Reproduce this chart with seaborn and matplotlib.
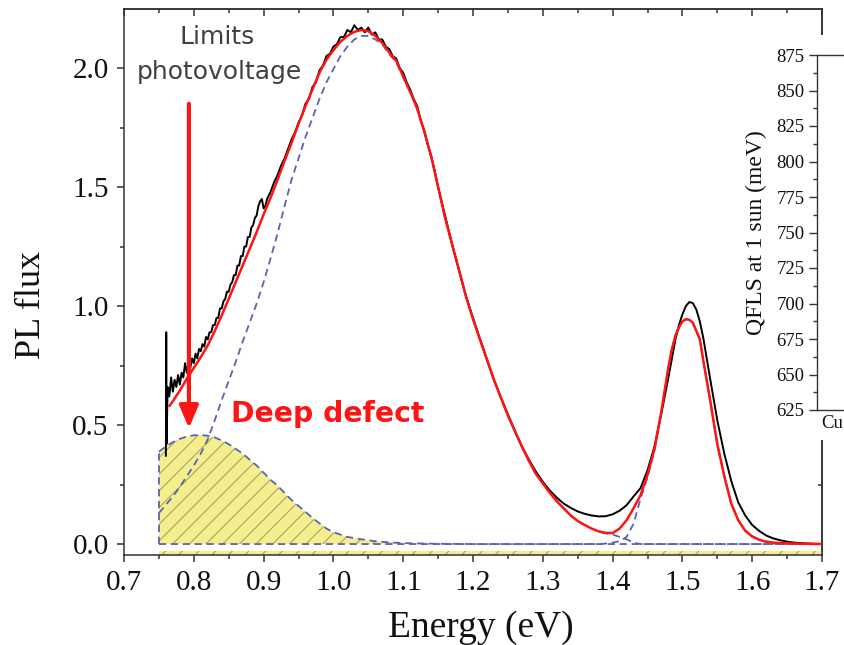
import matplotlib
matplotlib.use("Agg")
import matplotlib.pyplot as plt
import numpy as np
import pandas as pd
import seaborn as sns
from matplotlib.patches import Rectangle
from matplotlib.ticker import MultipleLocator

# ---------------- data ----------------
# measured PL spectrum (black, noisy)
data_x = [0.7600, 0.7605, 0.7610, 0.7625, 0.7650, 0.7675, 0.7700, 0.7725, 0.7750, 0.7775,
          0.7800, 0.7825, 0.7850, 0.7875, 0.7900, 0.7925, 0.7950, 0.7975, 0.8000, 0.8025,
          0.8050, 0.8075, 0.8100, 0.8125, 0.8150, 0.8175, 0.8200, 0.8225, 0.8250, 0.8275,
          0.8300, 0.8325, 0.8350, 0.8375, 0.8400, 0.8425, 0.8450, 0.8475, 0.8500, 0.8525,
          0.8550, 0.8575, 0.8600, 0.8625, 0.8650, 0.8675, 0.8700, 0.8725, 0.8750, 0.8775,
          0.8800, 0.8825, 0.8850, 0.8875, 0.8900, 0.8925, 0.8950, 0.8975, 0.9000, 0.9025,
          0.9050, 0.910, 0.915, 0.920, 0.925, 0.930, 0.935, 0.940, 0.945, 0.950,
          0.955, 0.960, 0.965, 0.970, 0.975, 0.980, 0.985, 0.990, 0.995, 1.000,
          1.005, 1.010, 1.015, 1.020, 1.025, 1.030, 1.035, 1.040, 1.045, 1.050,
          1.055, 1.060, 1.065, 1.070, 1.075, 1.080, 1.085, 1.090, 1.095, 1.100,
          1.105, 1.110, 1.115, 1.120, 1.125, 1.130, 1.135, 1.140, 1.145, 1.15,
          1.16, 1.17, 1.18, 1.19, 1.20, 1.21, 1.22, 1.23, 1.24, 1.25,
          1.26, 1.27, 1.28, 1.29, 1.30, 1.31, 1.32, 1.33, 1.34, 1.35,
          1.36, 1.37, 1.38, 1.39, 1.40, 1.41, 1.42, 1.43, 1.44, 1.45,
          1.46, 1.47, 1.48, 1.49, 1.495, 1.50, 1.505, 1.51, 1.515, 1.52,
          1.525, 1.53, 1.54, 1.55, 1.56, 1.57, 1.58, 1.59, 1.60, 1.61,
          1.62, 1.63, 1.64, 1.65, 1.66, 1.67, 1.68, 1.69, 1.70]
data_y = [0.37, 0.89, 0.42, 0.66, 0.62, 0.70, 0.64, 0.69, 0.66, 0.71,
          0.67, 0.72, 0.70, 0.76, 0.72, 0.76, 0.74, 0.78, 0.76, 0.80,
          0.78, 0.82, 0.81, 0.84, 0.83, 0.87, 0.86, 0.89, 0.89, 0.92,
          0.92, 0.95, 0.95, 0.99, 0.99, 1.02, 1.03, 1.06, 1.06, 1.09,
          1.10, 1.13, 1.13, 1.17, 1.17, 1.21, 1.21, 1.25, 1.25, 1.29,
          1.29, 1.33, 1.34, 1.37, 1.38, 1.42, 1.44, 1.45, 1.41, 1.42,
          1.45, 1.48, 1.52, 1.55, 1.59, 1.62, 1.66, 1.70, 1.73, 1.77,
          1.80, 1.85, 1.87, 1.92, 1.94, 1.99, 2.01, 2.05, 2.06, 2.09,
          2.10, 2.13, 2.13, 2.16, 2.15, 2.18, 2.16, 2.17, 2.15, 2.17,
          2.14, 2.15, 2.12, 2.12, 2.09, 2.08, 2.05, 2.04, 2.00, 1.98,
          1.94, 1.91, 1.87, 1.84, 1.78, 1.74, 1.68, 1.63, 1.57, 1.50,
          1.38, 1.26, 1.15, 1.04, 0.95, 0.86, 0.775, 0.69, 0.615, 0.545,
          0.475, 0.41, 0.355, 0.305, 0.262, 0.225, 0.195, 0.17, 0.152, 0.137,
          0.127, 0.12, 0.116, 0.117, 0.125, 0.14, 0.163, 0.20, 0.235, 0.31,
          0.41, 0.55, 0.70, 0.86, 0.92, 0.965, 1.00, 1.017, 1.012, 0.985,
          0.935, 0.865, 0.69, 0.52, 0.38, 0.265, 0.175, 0.12, 0.08, 0.055,
          0.036, 0.024, 0.016, 0.010, 0.006, 0.004, 0.002, 0.001, 0.0]

# total fit (red)
fit_x = [0.765, 0.77, 0.78, 0.79, 0.80, 0.81, 0.82, 0.83, 0.84, 0.85,
         0.86, 0.87, 0.88, 0.89, 0.90, 0.91, 0.92, 0.93, 0.94, 0.95,
         0.96, 0.97, 0.98, 0.99, 1.00, 1.01, 1.02, 1.03, 1.04, 1.05,
         1.06, 1.07, 1.08, 1.09, 1.10, 1.11, 1.12, 1.13, 1.14, 1.15,
         1.16, 1.17, 1.18, 1.19, 1.20, 1.21, 1.22, 1.23, 1.24, 1.25,
         1.26, 1.27, 1.28, 1.29, 1.30, 1.31, 1.32, 1.33, 1.34, 1.35,
         1.36, 1.37, 1.38, 1.39, 1.40, 1.41, 1.42, 1.43, 1.44, 1.45,
         1.46, 1.47, 1.48, 1.485, 1.49, 1.495, 1.50, 1.505, 1.51, 1.515,
         1.52, 1.525, 1.53, 1.54, 1.55, 1.56, 1.57, 1.58, 1.59, 1.60,
         1.61, 1.62, 1.63, 1.64, 1.66, 1.68, 1.70]
fit_y = [0.58, 0.60, 0.645, 0.695, 0.74, 0.785, 0.835, 0.895, 0.96, 1.03,
         1.10, 1.17, 1.24, 1.31, 1.385, 1.455, 1.53, 1.61, 1.685, 1.765,
         1.84, 1.91, 1.98, 2.035, 2.075, 2.11, 2.135, 2.152, 2.16, 2.155,
         2.135, 2.105, 2.065, 2.03, 1.965, 1.90, 1.83, 1.735, 1.63, 1.50,
         1.37, 1.26, 1.15, 1.04, 0.945, 0.86, 0.775, 0.69, 0.615, 0.54,
         0.475, 0.41, 0.35, 0.295, 0.255, 0.215, 0.18, 0.15, 0.12, 0.097,
         0.08, 0.065, 0.053, 0.047, 0.046, 0.065, 0.10, 0.15, 0.205, 0.29,
         0.40, 0.56, 0.745, 0.82, 0.875, 0.91, 0.935, 0.945, 0.942, 0.93,
         0.895, 0.86, 0.77, 0.60, 0.42, 0.285, 0.17, 0.10, 0.056, 0.032,
         0.018, 0.010, 0.006, 0.004, 0.002, 0.001, 0.0]

# main band-to-band component (blue dashed)
main_x = [0.75, 0.76, 0.77, 0.78, 0.79, 0.80, 0.81, 0.82, 0.83, 0.84,
          0.85, 0.86, 0.87, 0.88, 0.89, 0.90, 0.91, 0.92, 0.93, 0.94,
          0.95, 0.96, 0.97, 0.98, 0.99, 1.00, 1.01, 1.02, 1.03, 1.04,
          1.05, 1.06, 1.07, 1.08, 1.09, 1.10, 1.11, 1.12, 1.13, 1.14,
          1.15, 1.16, 1.17, 1.18, 1.19, 1.20, 1.21, 1.22, 1.23, 1.24,
          1.25, 1.26, 1.27, 1.28, 1.29, 1.30, 1.31, 1.32, 1.33, 1.34,
          1.35, 1.36, 1.37, 1.38, 1.39, 1.40, 1.41, 1.42, 1.43, 1.44, 1.70]
main_y = [0.13, 0.165, 0.20, 0.24, 0.285, 0.33, 0.38, 0.44, 0.52, 0.605,
          0.685, 0.765, 0.85, 0.93, 1.01, 1.10, 1.20, 1.305, 1.42, 1.53,
          1.62, 1.71, 1.79, 1.87, 1.94, 1.995, 2.05, 2.09, 2.12, 2.135,
          2.135, 2.12, 2.10, 2.058, 2.025, 1.96, 1.90, 1.83, 1.735, 1.63,
          1.50, 1.37, 1.26, 1.15, 1.04, 0.945, 0.86, 0.775, 0.69, 0.615,
          0.54, 0.475, 0.41, 0.35, 0.295, 0.255, 0.215, 0.18, 0.15, 0.12,
          0.097, 0.08, 0.065, 0.053, 0.045, 0.04, 0.03, 0.02, 0.006, 0.0, 0.0]

# deep defect component (yellow, hatched)
defect_x = [0.75, 0.76, 0.77, 0.78, 0.79, 0.80, 0.81, 0.82, 0.83, 0.84,
            0.85, 0.86, 0.87, 0.88, 0.89, 0.90, 0.91, 0.92, 0.93, 0.94,
            0.95, 0.96, 0.97, 0.98, 0.99, 1.00, 1.02, 1.04, 1.06, 1.08,
            1.10, 1.15, 1.20, 1.70]
defect_y = [0.388, 0.41, 0.428, 0.442, 0.452, 0.457, 0.458, 0.455, 0.448, 0.435,
            0.42, 0.40, 0.38, 0.355, 0.33, 0.30, 0.27, 0.245, 0.215, 0.185,
            0.16, 0.135, 0.11, 0.087, 0.065, 0.05, 0.03, 0.02, 0.012, 0.007,
            0.004, 0.001, 0.0, 0.0]

# band-edge peak component (blue dashed)
peak_x = [0.75, 1.38, 1.39, 1.40, 1.41, 1.42, 1.43, 1.44, 1.45, 1.46,
          1.47, 1.48, 1.485, 1.49, 1.495, 1.50, 1.505, 1.51, 1.515, 1.52,
          1.525, 1.53, 1.54, 1.55, 1.56, 1.57, 1.58, 1.59, 1.60, 1.61,
          1.62, 1.63, 1.64, 1.66, 1.68, 1.70]
peak_y = [0.0, 0.0, 0.002, 0.006, 0.012, 0.03, 0.085, 0.19, 0.28, 0.395,
          0.555, 0.742, 0.818, 0.873, 0.909, 0.934, 0.944, 0.942, 0.93, 0.895,
          0.86, 0.77, 0.60, 0.42, 0.285, 0.17, 0.10, 0.056, 0.032, 0.018,
          0.010, 0.006, 0.004, 0.002, 0.001, 0.0]

# thin hatched strip along the bottom
strip_x = [0.75, 1.70]
strip_lo = [-0.044, -0.044]
strip_hi = [-0.030, -0.030]

arrow_x = 0.793
arrow_y = [1.85, 0.487]

inset_ticks = [625, 650, 675, 700, 725, 750, 775, 800, 825, 850, 875]
inset_cat = "Cu"

# ---------------- style ----------------
sns.set_style("ticks")
plt.rcParams['font.family'] = ['Liberation Serif', 'DejaVu Serif']
plt.rcParams['hatch.linewidth'] = 0.8
plt.rcParams['axes.edgecolor'] = '#333333'
plt.rcParams['axes.linewidth'] = 1.1

YELLOW = '#f4ef8e'
HATCH = '#aaa25e'
BLUE = '#5a62b5'
RED = '#ff1414'
DASH = (0, (4, 2.6))

fig = plt.figure(figsize=(8.44, 6.45), dpi=100)
ax = fig.add_axes([124 / 844, 1 - 555 / 645, 698 / 844, 546 / 645])

# filled deep-defect component
ax.fill_between(defect_x, defect_y, 0, facecolor=YELLOW, edgecolor='none', zorder=1)
ax.fill_between(defect_x, defect_y, 0, facecolor='none', edgecolor=HATCH, hatch='//',
                linewidth=0, zorder=1.1)
ax.fill_between(strip_x, strip_lo, strip_hi, facecolor=YELLOW, edgecolor='none', zorder=1)
ax.fill_between(strip_x, strip_lo, strip_hi, facecolor='none', edgecolor=HATCH, hatch='//',
                linewidth=0, zorder=1.1)

# dashed components
comp = pd.DataFrame({'x': defect_x, 'y': defect_y})
sns.lineplot(data=comp, x='x', y='y', ax=ax, color=BLUE, lw=1.3, linestyle=DASH,
             estimator=None, sort=False, zorder=2)
ax.vlines(defect_x[0], 0, defect_y[0], color=BLUE, lw=1.3, linestyle=DASH, zorder=2)
sns.lineplot(x=main_x, y=main_y, ax=ax, color=BLUE, lw=1.3, linestyle=DASH,
             estimator=None, sort=False, zorder=2)
sns.lineplot(x=peak_x, y=peak_y, ax=ax, color=BLUE, lw=1.3, linestyle=DASH,
             estimator=None, sort=False, zorder=2)

# data and fit
sns.lineplot(x=data_x, y=data_y, ax=ax, color='black', lw=1.4,
             estimator=None, sort=False, zorder=3)
sns.lineplot(x=fit_x, y=fit_y, ax=ax, color=RED, lw=1.8,
             estimator=None, sort=False, zorder=4)

ax.set_xlim(0.7, 1.7)
ax.set_ylim(-0.046, 2.248)
ax.xaxis.set_major_locator(MultipleLocator(0.1))
ax.xaxis.set_minor_locator(MultipleLocator(0.05))
ax.yaxis.set_major_locator(MultipleLocator(0.5))
ax.yaxis.set_minor_locator(MultipleLocator(0.25))
ax.tick_params(which='both', direction='out', width=1.1, color='#333333',
               labelsize=21, labelcolor='#111111')
ax.tick_params(which='major', length=5)
ax.tick_params(which='minor', length=3)
ax.tick_params(axis='x', pad=6)
ax.tick_params(axis='y', pad=6)
for s in ax.spines.values():
    s.set_visible(True)
    s.set_color('#333333')

sx = ax.secondary_xaxis('top')
sx.xaxis.set_major_locator(MultipleLocator(0.1))
sx.xaxis.set_minor_locator(MultipleLocator(0.05))
sx.tick_params(which='both', direction='in', labeltop=False, width=1.1, color='#333333')
sx.tick_params(which='major', length=5)
sx.tick_params(which='minor', length=3)
sy = ax.secondary_yaxis('right')
sy.yaxis.set_major_locator(MultipleLocator(0.5))
sy.yaxis.set_minor_locator(MultipleLocator(0.25))
sy.tick_params(which='both', direction='in', labelright=False, width=1.1, color='#333333')
sy.tick_params(which='major', length=5)
sy.tick_params(which='minor', length=3)

ax.set_xlabel('Energy (eV)', fontsize=27, color='#111111')
ax.set_ylabel('PL flux', fontsize=26, color='#111111')
ax.xaxis.set_label_coords((481 - 124) / 698, (555 - 628) / 546)
ax.yaxis.set_label_coords((32 - 124) / 698, (555 - 305) / 546)
ax.xaxis.label.set_va('center')
ax.yaxis.label.set_va('center')

# annotations
ax.annotate('', xy=(arrow_x, arrow_y[1]), xytext=(arrow_x, arrow_y[0]),
            arrowprops=dict(arrowstyle='-|>,head_length=0.75,head_width=0.32',
                            color=RED, lw=3.0, shrinkA=0, shrinkB=0,
                            mutation_scale=18), zorder=6)
ax.text(0.834, 2.13, 'Limits', ha='center', va='center', fontsize=18,
        color='#404040', family=['DejaVu Sans'])
ax.text(0.836, 1.985, 'photovoltage', ha='center', va='center', fontsize=18,
        color='#404040', family=['DejaVu Sans'])
ax.text(0.853, 0.545, 'Deep defect', ha='left', va='center', fontsize=20.3,
        color=RED, fontweight='bold', family=['DejaVu Sans'])

# inset panel (cut off at the right edge)
cover = Rectangle((735 / 844, 1 - 440 / 645), 0.2, (440 - 35) / 645,
                  transform=fig.transFigure, facecolor='white', edgecolor='none', zorder=5)
fig.add_artist(cover)
ins = fig.add_axes([817 / 844, 1 - 410 / 645, 0.3, 355 / 645])
ins.set_zorder(6)
ins.set_facecolor('white')
ins.set_ylim(inset_ticks[0], inset_ticks[-1])
ins.set_yticks(inset_ticks)
ins.yaxis.set_minor_locator(MultipleLocator(12.5))
ins.set_xticks([])
ins.tick_params(which='both', direction='out', width=1.0, color='#333333',
                labelsize=13.5, pad=3, labelcolor='#111111')
ins.tick_params(which='major', length=6)
ins.tick_params(which='minor', length=3)
for s in ins.spines.values():
    s.set_visible(True)
    s.set_color('#333333')
    s.set_linewidth(1.0)
ins.set_ylabel('QFLS at 1 sun (meV)', fontsize=17, labelpad=7, color='#111111')
fig.text(821 / 844, 1 - 423 / 645, inset_cat, ha='left', va='center', fontsize=13.5,
         color='#111111', zorder=7)

fig.savefig('out.png', dpi=100)
